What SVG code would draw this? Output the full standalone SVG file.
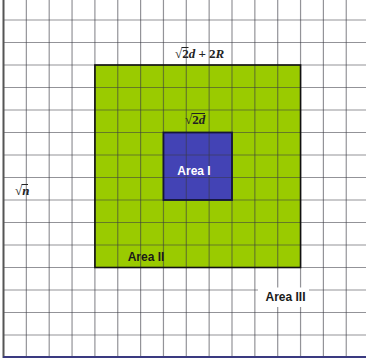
<svg xmlns="http://www.w3.org/2000/svg" width="366" height="362" viewBox="0 0 366 362">
<style>
.grid line{stroke:#3a3a44;stroke-opacity:0.55;stroke-width:1.2}
.area{font-family:"Liberation Sans",Arial,sans-serif;font-weight:bold;font-size:12px}
.math{font-family:"Liberation Serif","Times New Roman",serif;font-size:13px;font-weight:bold;fill:#222}
.bar{stroke:#222;stroke-width:1}
</style>
<rect x="0" y="0" width="366" height="362" fill="#ffffff"/>
<g id="area2-fill"><rect x="94.9" y="65" width="205.65" height="202.5" fill="#9acb00"/></g>
<g id="area1-fill"><rect x="163.45" y="132.5" width="68.55" height="67.5" fill="#4343b5"/></g>
<g class="grid" id="grid">
<line x1="26.35" y1="0" x2="26.35" y2="357"/>
<line x1="49.2" y1="0" x2="49.2" y2="357"/>
<line x1="72.05" y1="0" x2="72.05" y2="357"/>
<line x1="94.9" y1="0" x2="94.9" y2="357"/>
<line x1="117.75" y1="0" x2="117.75" y2="357"/>
<line x1="140.6" y1="0" x2="140.6" y2="357"/>
<line x1="163.45" y1="0" x2="163.45" y2="357"/>
<line x1="186.3" y1="0" x2="186.3" y2="357"/>
<line x1="209.15" y1="0" x2="209.15" y2="357"/>
<line x1="232" y1="0" x2="232" y2="357"/>
<line x1="254.85" y1="0" x2="254.85" y2="357"/>
<line x1="277.7" y1="0" x2="277.7" y2="357"/>
<line x1="300.55" y1="0" x2="300.55" y2="357"/>
<line x1="323.4" y1="0" x2="323.4" y2="357"/>
<line x1="346.25" y1="0" x2="346.25" y2="357"/>
<line x1="3.5" y1="20" x2="366" y2="20"/>
<line x1="3.5" y1="42.5" x2="366" y2="42.5"/>
<line x1="3.5" y1="65" x2="366" y2="65"/>
<line x1="3.5" y1="87.5" x2="366" y2="87.5"/>
<line x1="3.5" y1="110" x2="366" y2="110"/>
<line x1="3.5" y1="132.5" x2="366" y2="132.5"/>
<line x1="3.5" y1="155" x2="366" y2="155"/>
<line x1="3.5" y1="177.5" x2="366" y2="177.5"/>
<line x1="3.5" y1="200" x2="366" y2="200"/>
<line x1="3.5" y1="222.5" x2="366" y2="222.5"/>
<line x1="3.5" y1="245" x2="366" y2="245"/>
<line x1="3.5" y1="267.5" x2="366" y2="267.5"/>
<line x1="3.5" y1="290" x2="366" y2="290"/>
<line x1="3.5" y1="312.5" x2="366" y2="312.5"/>
<line x1="3.5" y1="335" x2="366" y2="335"/>
</g>
<g id="frame">
<line x1="3.5" y1="0" x2="3.5" y2="358" stroke="#555" stroke-width="2"/>
<line x1="3" y1="357" x2="366" y2="357" stroke="#3a3a80" stroke-width="2"/>
</g>
<g id="area2">
<rect x="94.9" y="65" width="205.65" height="202.5" fill="none" stroke="#111" stroke-width="1.6"/>
<text class="area" x="146" y="261" text-anchor="middle" fill="#1a1a1a">Area II</text>
</g>
<g id="area1">
<rect x="163.45" y="132.5" width="68.55" height="67.5" fill="none" stroke="#15153a" stroke-width="1.8"/>
<text class="area" x="194" y="175" text-anchor="middle" fill="#ffffff">Area I</text>
</g>
<g id="area3">
<rect x="258" y="287.5" width="51" height="19.5" fill="#ffffff"/>
<text class="area" x="285.5" y="301" text-anchor="middle" fill="#1a1a1a">Area III</text>
</g>
<g id="label-outer">
<text class="math" x="175" y="58">√<tspan>2</tspan><tspan font-style="italic">d</tspan> + 2<tspan font-style="italic">R</tspan></text>
<line class="bar" x1="181.5" y1="47.5" x2="188.5" y2="47.5"/>
</g>
<g id="label-inner">
<text class="math" x="185" y="124">√<tspan>2</tspan><tspan font-style="italic">d</tspan></text>
<line class="bar" x1="191.5" y1="113.5" x2="205" y2="113.5"/>
</g>
<g id="label-side">
<text class="math" x="15" y="195">√<tspan font-style="italic">n</tspan></text>
<line class="bar" x1="21.5" y1="184.5" x2="28" y2="184.5"/>
</g>
</svg>
